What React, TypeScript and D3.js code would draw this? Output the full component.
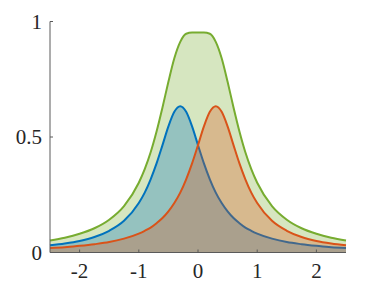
import React from 'react';
import * as d3 from 'd3';

const xs = [-2.5, -2.25, -2, -1.75, -1.5, -1.25, -1, -0.9, -0.8, -0.7, -0.6, -0.5, -0.4, -0.3, -0.2, -0.1, 0, 0.1, 0.2, 0.3, 0.4, 0.5, 0.6, 0.7, 0.8, 0.9, 1, 1.25, 1.5, 1.75, 2, 2.25, 2.5];
const blueVals = [0.031, 0.039, 0.05, 0.067, 0.094, 0.137, 0.214, 0.259, 0.317, 0.386, 0.465, 0.546, 0.609, 0.633, 0.609, 0.546, 0.465, 0.386, 0.317, 0.259, 0.214, 0.178, 0.149, 0.127, 0.108, 0.094, 0.082, 0.06, 0.045, 0.036, 0.029, 0.023, 0.02];
const orangeVals = [0.02, 0.023, 0.029, 0.036, 0.045, 0.06, 0.082, 0.094, 0.108, 0.127, 0.149, 0.178, 0.214, 0.259, 0.317, 0.386, 0.465, 0.546, 0.609, 0.633, 0.609, 0.546, 0.465, 0.386, 0.317, 0.259, 0.214, 0.137, 0.094, 0.067, 0.05, 0.039, 0.031];
const greenVals = [0.052, 0.064, 0.081, 0.105, 0.142, 0.201, 0.302, 0.361, 0.434, 0.524, 0.628, 0.739, 0.841, 0.912, 0.947, 0.952, 0.952, 0.952, 0.947, 0.912, 0.841, 0.739, 0.628, 0.524, 0.434, 0.361, 0.302, 0.201, 0.142, 0.105, 0.081, 0.064, 0.052];

const xTicks = [-2, -1, 0, 1, 2];
const xTickLabels = ['-2', '-1', '0', '1', '2'];
const yTicks = [0, 0.5, 1];
const yTickLabels = ['0', '0.5', '1'];

const series = [
  { name: 'green', vals: greenVals, color: '#77AC30' },
  { name: 'blue', vals: blueVals, color: '#0072BD' },
  { name: 'orange', vals: orangeVals, color: '#D95319' },
];

export default function App() {
  const W = 382, H = 286;
  const x = d3.scaleLinear().domain([-2.5, 2.5]).range([50, 346]);
  const y = d3.scaleLinear().domain([0, 1]).range([252.5, 21.5]);
  const areaGen = d3.area<number>()
    .x((_, i) => x(xs[i]))
    .y0(y(0))
    .y1((d) => y(d))
    .curve(d3.curveMonotoneX);
  const lineGen = d3.line<number>()
    .x((_, i) => x(xs[i]))
    .y((d) => y(d))
    .curve(d3.curveMonotoneX);
  const axisColor = '#5a5a5a';
  const [x0, x1] = x.range();
  const [y0, y1] = y.range();
  return (
    <div style={{ position: 'absolute', left: 0, top: 0, width: W, height: H, fontFamily: 'Liberation Serif' }}>
      <svg width={W} height={H} style={{ display: 'block', background: '#fff' }}>
        {series.map((s) => (
          <g key={s.name}>
            <path d={areaGen(s.vals) || ''} fill={s.color} fillOpacity={0.3} stroke="none" />
            <path d={lineGen(s.vals) || ''} fill="none" stroke={s.color} strokeWidth={2} />
          </g>
        ))}
        <line x1={x0} x2={x1} y1={y0} y2={y0} stroke={axisColor} strokeWidth={1} />
        <line x1={x0} x2={x0} y1={y0} y2={y1} stroke={axisColor} strokeWidth={1} />
        <g fontFamily="Liberation Serif" fontSize={21} fill="#262626">
          {xTicks.map((t, i) => (
            <g key={'xt' + i}>
              <line x1={x(t)} x2={x(t)} y1={y0} y2={y0 - 3} stroke={axisColor} strokeWidth={1} />
              <text x={x(t)} y={278} textAnchor="middle">{xTickLabels[i]}</text>
            </g>
          ))}
          {yTicks.map((t, i) => (
            <g key={'yt' + i}>
              <line x1={x0} x2={x0 + 3} y1={y(t)} y2={y(t)} stroke={axisColor} strokeWidth={1} />
              <text x={42} y={y(t) + 7} textAnchor="end">{yTickLabels[i]}</text>
            </g>
          ))}
        </g>
      </svg>
    </div>
  );
}
